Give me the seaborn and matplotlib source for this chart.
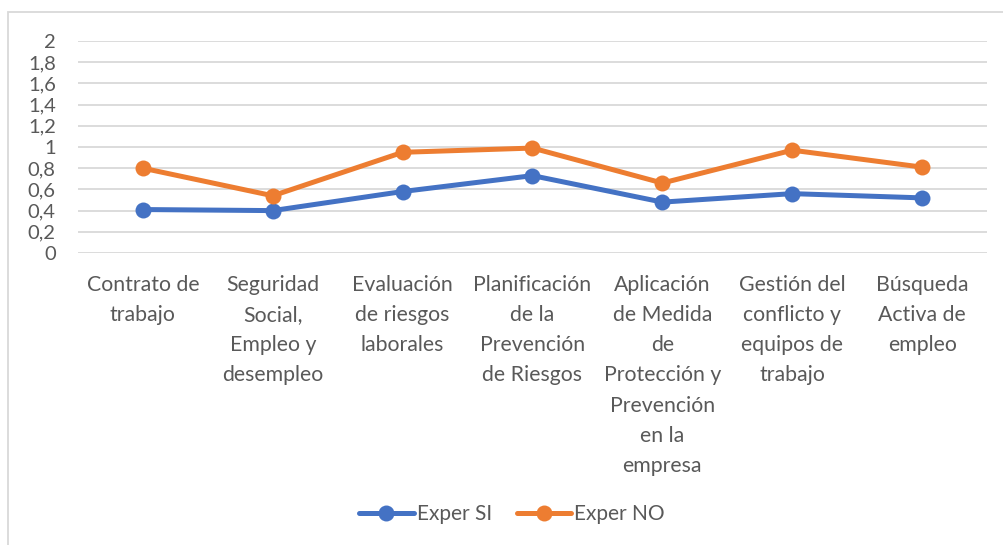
import pandas as pd
import seaborn as sns
import matplotlib.pyplot as plt
from matplotlib.patches import Rectangle
from matplotlib.lines import Line2D

### DATA
categories = ["Contrato de\ntrabajo",
              "Seguridad\nSocial,\nEmpleo y\ndesempleo",
              "Evaluación\nde riesgos\nlaborales",
              "Planificación\nde la\nPrevención\nde Riesgos",
              "Aplicación\nde Medida\nde\nProtección y\nPrevención\nen la\nempresa",
              "Gestión del\nconflicto y\nequipos de\ntrabajo",
              "Búsqueda\nActiva de\nempleo"]
exper_si = [0.41, 0.40, 0.58, 0.73, 0.48, 0.56, 0.52]
exper_no = [0.80, 0.54, 0.95, 0.99, 0.66, 0.97, 0.81]
series_names = ["Exper SI", "Exper NO"]
y_ticks = [0, 0.2, 0.4, 0.6, 0.8, 1, 1.2, 1.4, 1.6, 1.8, 2]

colors = ["#4472C4", "#ED7D31"]
text_col = "#595959"

# long format for seaborn
df = pd.DataFrame({
    "cat": categories * 2,
    "pos": list(range(len(categories))) * 2,
    "value": exper_si + exper_no,
    "serie": [series_names[0]] * len(categories) + [series_names[1]] * len(categories),
})

sns.set_style("white")
plt.rcParams['font.family'] = ['Lato', 'DejaVu Sans']

fig = plt.figure(figsize=(10.04, 5.45), dpi=100)
ax = fig.add_axes([78 / 1004, 1 - 253 / 545, (987 - 78) / 1004, (253 - 41) / 545])

# chart border
fig.patches.append(Rectangle((8 / 1004, -0.1), 1.1, 1 - 12 / 545 + 0.1,
                             transform=fig.transFigure, fill=False,
                             edgecolor="#D9D9D9", linewidth=1.3))

sns.lineplot(data=df, x="pos", y="value", hue="serie", palette=colors,
             marker="o", markersize=11.5, markeredgewidth=0, linewidth=3.6,
             legend=False, ax=ax)

ax.set_xlim(-0.5, len(categories) - 0.5)
ax.set_ylim(0, 2)
ax.set_yticks(y_ticks)
ax.set_yticklabels([f"{t:g}".replace(".", ",") for t in y_ticks])
ax.set_xticks(range(len(categories)))
ax.set_xticklabels(categories, linespacing=1.63)

for t in y_ticks:
    ax.axhline(t, color="#D9D9D9", linewidth=1.3, zorder=0)

for s in ax.spines.values():
    s.set_visible(False)
ax.set_xlabel("")
ax.set_ylabel("")
ax.tick_params(axis="x", length=0, pad=16, labelsize=15.3, labelcolor=text_col)
ax.tick_params(axis="y", length=0, pad=16, labelsize=14.5, labelcolor=text_col)
for lab in ax.get_xticklabels():
    lab.set_verticalalignment("top")

# legend
handles = [Line2D([0], [0], color=c, linewidth=3.6, marker="o", markersize=11.5,
                  markeredgewidth=0) for c in colors]
fig.legend(handles, series_names, loc="center", bbox_to_anchor=(0.51, 1 - 514 / 545),
           ncol=2, frameon=False, fontsize=15, labelcolor=text_col,
           handlelength=2.6, handletextpad=0.15, columnspacing=1.2)

plt.savefig("out.png", dpi=100)
